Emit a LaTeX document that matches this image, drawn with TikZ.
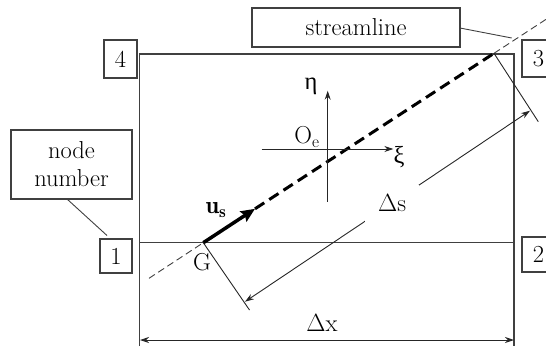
\documentclass[tikz,border=0pt]{standalone}
\usepackage{fontspec}
\newfontfamily\grk{Liberation Serif}
\usetikzlibrary{arrows.meta}
\begin{document}
\begin{tikzpicture}[x=1pt,y=-1pt,
  every node/.style={font=\fontsize{24.5}{28}\selectfont, inner sep=0pt},
  frame/.style={line width=1.1pt, draw=black!75},
  tag/.style={draw=black!75, line width=1.1pt, inner sep=0pt, align=center},
  thinline/.style={line width=0.9pt, draw=black!85},
  dimarrow/.style={thinline, {Stealth[length=9pt,width=6pt]}-{Stealth[length=9pt,width=6pt]}},
  axis/.style={thinline, -{Stealth[length=9pt,width=6pt]}},
  thindash/.style={line width=0.9pt, draw=black!75, dash pattern=on 7pt off 4pt},
  bolddash/.style={line width=3pt, draw=black, dash pattern=on 11pt off 6pt},
  vec/.style={line width=3.5pt, draw=black, -{Stealth[length=14pt,width=12pt,inset=2pt]}},
  leader/.style={line width=0.9pt, draw=black!75}
]
\useasboundingbox (0,0) rectangle (546,346);
\clip (0,0) rectangle (546,346);

% frame
\coordinate (TL) at (139.5,54);
\coordinate (TR) at (514,54);
\coordinate (BL) at (139.5,346);
\coordinate (BR) at (514,346);
\coordinate (ML) at (139.5,242.5);
\coordinate (MR) at (514,242.5);
\draw[frame] (BL) -- (TL) -- (TR) -- (BR);
\draw[frame] (ML) -- (MR);

% node tags
\node[tag, minimum width=33pt, minimum height=38pt] (n4) at (120.5,59) {4};
\node[tag, minimum width=32pt, minimum height=34pt] (n1) at (116,256) {1};
\node[tag, minimum width=33pt, minimum height=35pt] (n2) at (538.5,254.5) {2};
\node[tag, minimum width=33pt, minimum height=37pt] (n3) at (538.5,58.5) {3};
\node[tag, minimum width=121pt, minimum height=69pt] (nn) at (71.5,164.5) {node\\number};
\node[tag, minimum width=208pt, minimum height=39pt] (sl) at (356,27.5) {streamline};

% leaders
\coordinate (nnA) at (67,199);
\coordinate (nnB) at (107,235.5);
\draw[leader] (nnA) -- (nnB);
\coordinate (slA) at (460,28);
\coordinate (slB) at (511.7,38);
\draw[leader] (slA) -- (slB);

% streamline
\coordinate (G) at (203.3,242.7);
\coordinate (T) at (494,53.3);
\coordinate (D1) at (149,278.3);
\coordinate (D2) at (547,18.7);
\coordinate (U) at (255,208.8);
\draw[thindash] (D1) -- (G);
\draw[thindash] (T) -- (D2);
\draw[bolddash] (U) -- (T);
\draw[vec] (G) -- (U);

% perpendiculars
\coordinate (Gp) at (249.5,310);
\coordinate (Tp) at (538.3,121.7);
\draw[thinline] (G) -- (Gp);
\draw[thinline] (T) -- (Tp);

% delta s
\coordinate (A) at (245,301.7);
\coordinate (B) at (530,110.7);
\draw[dimarrow] (A) -- node[pos=0.516, fill=white, minimum width=54pt, minimum height=37pt] (ds) {$\Delta$s} (B);

% delta x
\coordinate (X1) at (140,340);
\coordinate (X2) at (514,340);
\draw[dimarrow] (X1) -- (X2);
\node (dx) at (322,323) {$\Delta$x};

% local axes
\coordinate (E0) at (327.7,201.7);
\coordinate (E1) at (327.7,90.7);
\coordinate (X0) at (261.7,149);
\coordinate (Xe) at (393.3,149);
\draw[axis] (E0) -- (E1);
\draw[axis] (X0) -- (Xe);
\node (eta) at (311,86) {\grk η};
\node (oe) at (307,137) {O$_{\mathrm{e}}$};
\node (xi) at (399,157) {\grk ξ};

% labels
\node (gl) at (202,262) {G};
\node (us) at (216,210) {$\mathbf{u}_{\mathbf{s}}$};
\end{tikzpicture}
\end{document}
